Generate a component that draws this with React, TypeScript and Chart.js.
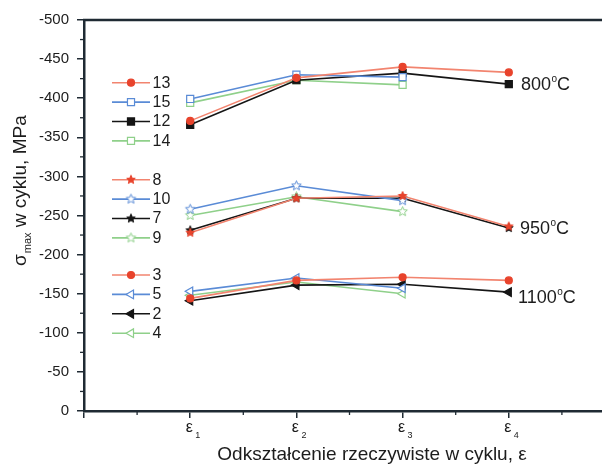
import React, { useEffect, useRef } from 'react';
import { Chart, registerables } from 'chart.js';
import { drawPoint } from 'chart.js/helpers';
Chart.register(...registerables);

// ---- data ----
const strainTicks = [1, 2, 3, 4];
const strainSubs = ['1', '2', '3', '4'];
const seriesLabels = ['13', '15', '12', '14', '8', '10', '7', '9', '3', '5', '2', '4'];
const tempLabels = ['800', '950', '1100'];
// 800 °C
const s13 = [-371, -426, -440, -433];
const s15 = [-399, -430, -427];
const s12 = [-366, -423, -432, -418];
const s14 = [-394, -423, -417];
// 950 °C
const s8 = [-228, -272, -275, -236];
const s10 = [-258, -288, -269];
const s7 = [-231, -272, -272, -234];
const s9 = [-250, -274, -255];
// 1100 °C
const s3 = [-144, -167, -171, -167];
const s5 = [-153, -170, -157];
const s2 = [-141, -161, -162, -152];
const s4 = [-148, -165, -150];

const FONT = '"Liberation Sans", Arial, sans-serif';
const AXIS = '#1f2a33';
const TXT = '#1c1c1c';

function makeStar(r: number, fill: string, stroke: string) {
  const c = document.createElement('canvas');
  const s = Math.ceil(2 * r + 3);
  c.width = s; c.height = s;
  const g = c.getContext('2d')!;
  g.beginPath();
  for (let i = 0; i < 10; i++) {
    const rr = i % 2 === 0 ? r : r * 0.45;
    const a = -Math.PI / 2 + (i * Math.PI) / 5;
    const px = s / 2 + rr * Math.cos(a);
    const py = s / 2 + rr * Math.sin(a);
    if (i === 0) g.moveTo(px, py); else g.lineTo(px, py);
  }
  g.closePath();
  g.fillStyle = fill; g.fill();
  g.lineWidth = 1; g.strokeStyle = stroke; g.stroke();
  return c;
}

export default function App() {
  const ref = useRef<HTMLCanvasElement>(null);
  useEffect(() => {
    const RED_L = '#f2846f', RED_M = '#e8432c';
    const BLUE = '#5a8bd6', GREEN = '#8fd08a', BLACK = '#151515';
    const starR = makeStar(4.5, RED_M, RED_M);
    const starB = makeStar(5, '#ffffff', BLUE);
    const starK = makeStar(4.5, BLACK, BLACK);
    const starG = makeStar(5, '#ffffff', GREEN);

    const values = [s13, s15, s12, s14, s8, s10, s7, s9, s3, s5, s2, s4];
    const styles: any[] = [
      { c: RED_L, f: RED_M, b: RED_M, ps: 'circle', r: 3.5, rot: 0 },
      { c: BLUE, f: '#fff', b: BLUE, ps: 'rect', r: 5, rot: 0 },
      { c: BLACK, f: BLACK, b: BLACK, ps: 'rect', r: 5, rot: 0 },
      { c: GREEN, f: '#fff', b: GREEN, ps: 'rect', r: 5, rot: 0 },
      { c: RED_L, f: RED_M, b: RED_M, ps: starR, r: 5, rot: 0 },
      { c: BLUE, f: '#fff', b: BLUE, ps: starB, r: 5, rot: 0 },
      { c: BLACK, f: BLACK, b: BLACK, ps: starK, r: 5, rot: 0 },
      { c: GREEN, f: '#fff', b: GREEN, ps: starG, r: 5, rot: 0 },
      { c: RED_L, f: RED_M, b: RED_M, ps: 'circle', r: 3.5, rot: 0 },
      { c: BLUE, f: '#fff', b: BLUE, ps: 'triangle', r: 5, rot: -90 },
      { c: BLACK, f: BLACK, b: BLACK, ps: 'triangle', r: 5, rot: -90 },
      { c: GREEN, f: '#fff', b: GREEN, ps: 'triangle', r: 5, rot: -90 },
    ];
    const datasets = values.map((vals, i) => ({
      label: seriesLabels[i],
      data: vals.map((v, j) => ({ x: strainTicks[j], y: v })),
      borderColor: styles[i].c,
      borderWidth: 1.6,
      pointStyle: styles[i].ps,
      pointRadius: styles[i].r,
      pointRotation: styles[i].rot,
      pointBackgroundColor: styles[i].f,
      pointBorderColor: styles[i].b,
      pointBorderWidth: 1.2,
      tension: 0,
      fill: false,
    }));

    const deco = {
      id: 'deco',
      afterDraw(chart: any) {
        const { ctx, chartArea: a, scales } = chart;
        const xs = scales.x, ys = scales.y;
        ctx.save();
        // top frame line
        ctx.strokeStyle = AXIS; ctx.lineWidth = 2.5;
        ctx.beginPath(); ctx.moveTo(a.left - 1, a.top); ctx.lineTo(a.right, a.top); ctx.stroke();
        // minor ticks
        ctx.lineWidth = 1.3;
        for (let v = -475; v < 0; v += 50) {
          const py = ys.getPixelForValue(v);
          ctx.beginPath(); ctx.moveTo(a.left - 4, py); ctx.lineTo(a.left, py); ctx.stroke();
        }
        for (let v = 0.5; v < 5; v += 1) {
          const px = xs.getPixelForValue(v);
          ctx.beginPath(); ctx.moveTo(px, a.bottom); ctx.lineTo(px, a.bottom + 4); ctx.stroke();
        }
        // x tick labels
        ctx.fillStyle = TXT;
        ctx.textBaseline = 'alphabetic';
        strainTicks.forEach((v, i) => {
          const px = xs.getPixelForValue(v);
          ctx.font = `16px ${FONT}`; ctx.textAlign = 'center';
          ctx.fillText('ε', px - 1, a.bottom + 21);
          ctx.font = `9px ${FONT}`; ctx.textAlign = 'left';
          ctx.fillText(strainSubs[i], px + 5, a.bottom + 27);
        });
        // x title
        ctx.font = `19px ${FONT}`; ctx.textAlign = 'center';
        ctx.fillText('Odkształcenie rzeczywiste w cyklu, ε', 372, 460);
        // y title
        ctx.save();
        ctx.translate(26, 266); ctx.rotate(-Math.PI / 2);
        ctx.textAlign = 'left';
        ctx.font = `19px ${FONT}`;
        ctx.fillText('σ', 0, 0);
        let w = ctx.measureText('σ').width;
        ctx.font = `11px ${FONT}`;
        ctx.fillText('max', w + 1, 5);
        w += ctx.measureText('max').width + 1;
        ctx.font = `19px ${FONT}`;
        ctx.fillText(' w cyklu, MPa', w, 0);
        ctx.restore();
        // temperature labels
        const ty = [85, 229, 298];
        const tx = [521, 520, 518];
        tempLabels.forEach((t, i) => {
          ctx.textAlign = 'left'; ctx.textBaseline = 'middle';
          ctx.font = `18px ${FONT}`;
          ctx.fillText(t, tx[i], ty[i]);
          let ww = ctx.measureText(t).width;
          ctx.font = `10px ${FONT}`;
          ctx.fillText('o', tx[i] + ww + 0.5, ty[i] - 6);
          ww += ctx.measureText('o').width + 0.5;
          ctx.font = `18px ${FONT}`;
          ctx.fillText('C', tx[i] + ww, ty[i]);
        });
        // legend
        const starts = [82.7, 179.7, 275];
        chart.data.datasets.forEach((ds: any, i: number) => {
          const g = Math.floor(i / 4), k = i % 4;
          const ly = starts[g] + k * 19.4;
          ctx.strokeStyle = ds.borderColor; ctx.lineWidth = 1.6;
          ctx.beginPath(); ctx.moveTo(112, ly); ctx.lineTo(150, ly); ctx.stroke();
          ctx.fillStyle = ds.pointBackgroundColor; ctx.strokeStyle = ds.pointBorderColor;
          ctx.lineWidth = ds.pointBorderWidth;
          drawPoint(ctx, { pointStyle: ds.pointStyle, rotation: ds.pointRotation, radius: ds.pointRadius, borderWidth: ds.pointBorderWidth }, 131, ly);
          ctx.fillStyle = TXT; ctx.font = `16px ${FONT}`;
          ctx.textAlign = 'left'; ctx.textBaseline = 'middle';
          ctx.fillText(ds.label, 152.5, ly + 0.5);
        });
        ctx.restore();
      },
    };

    const chart = new Chart(ref.current!, {
      type: 'line',
      data: { datasets },
      options: {
        animation: false,
        responsive: false,
        layout: { padding: { top: 20, right: 25, left: 0, bottom: 0 } },
        plugins: { legend: { display: false }, tooltip: { enabled: false } },
        scales: {
          x: {
            type: 'linear', min: 0, max: 5,
            ticks: { stepSize: 1, callback: () => '' },
            grid: { drawOnChartArea: false, drawTicks: true, tickLength: 7, color: AXIS, lineWidth: 1.5 },
            border: { display: true, color: AXIS, width: 2.5 },
            afterFit: (s: any) => { s.height = 53; },
          },
          y: {
            type: 'linear', min: -500, max: 0, reverse: true,
            ticks: { stepSize: 50, color: TXT, font: { size: 15, family: FONT }, padding: 8 },
            grid: { drawOnChartArea: false, drawTicks: true, tickLength: 7, color: AXIS, lineWidth: 1.5 },
            border: { display: true, color: AXIS, width: 2.5 },
            afterFit: (s: any) => { s.width = 84; },
          },
        },
      },
      plugins: [deco],
    } as any);
    return () => chart.destroy();
  }, []);
  return (
    <div style={{ position: 'fixed', left: 0, top: 0, width: 602, height: 464, overflow: 'hidden', background: '#fff' }}>
      <canvas ref={ref} width={640} height={464} style={{ width: 640, height: 464, display: 'block' }} />
    </div>
  );
}
